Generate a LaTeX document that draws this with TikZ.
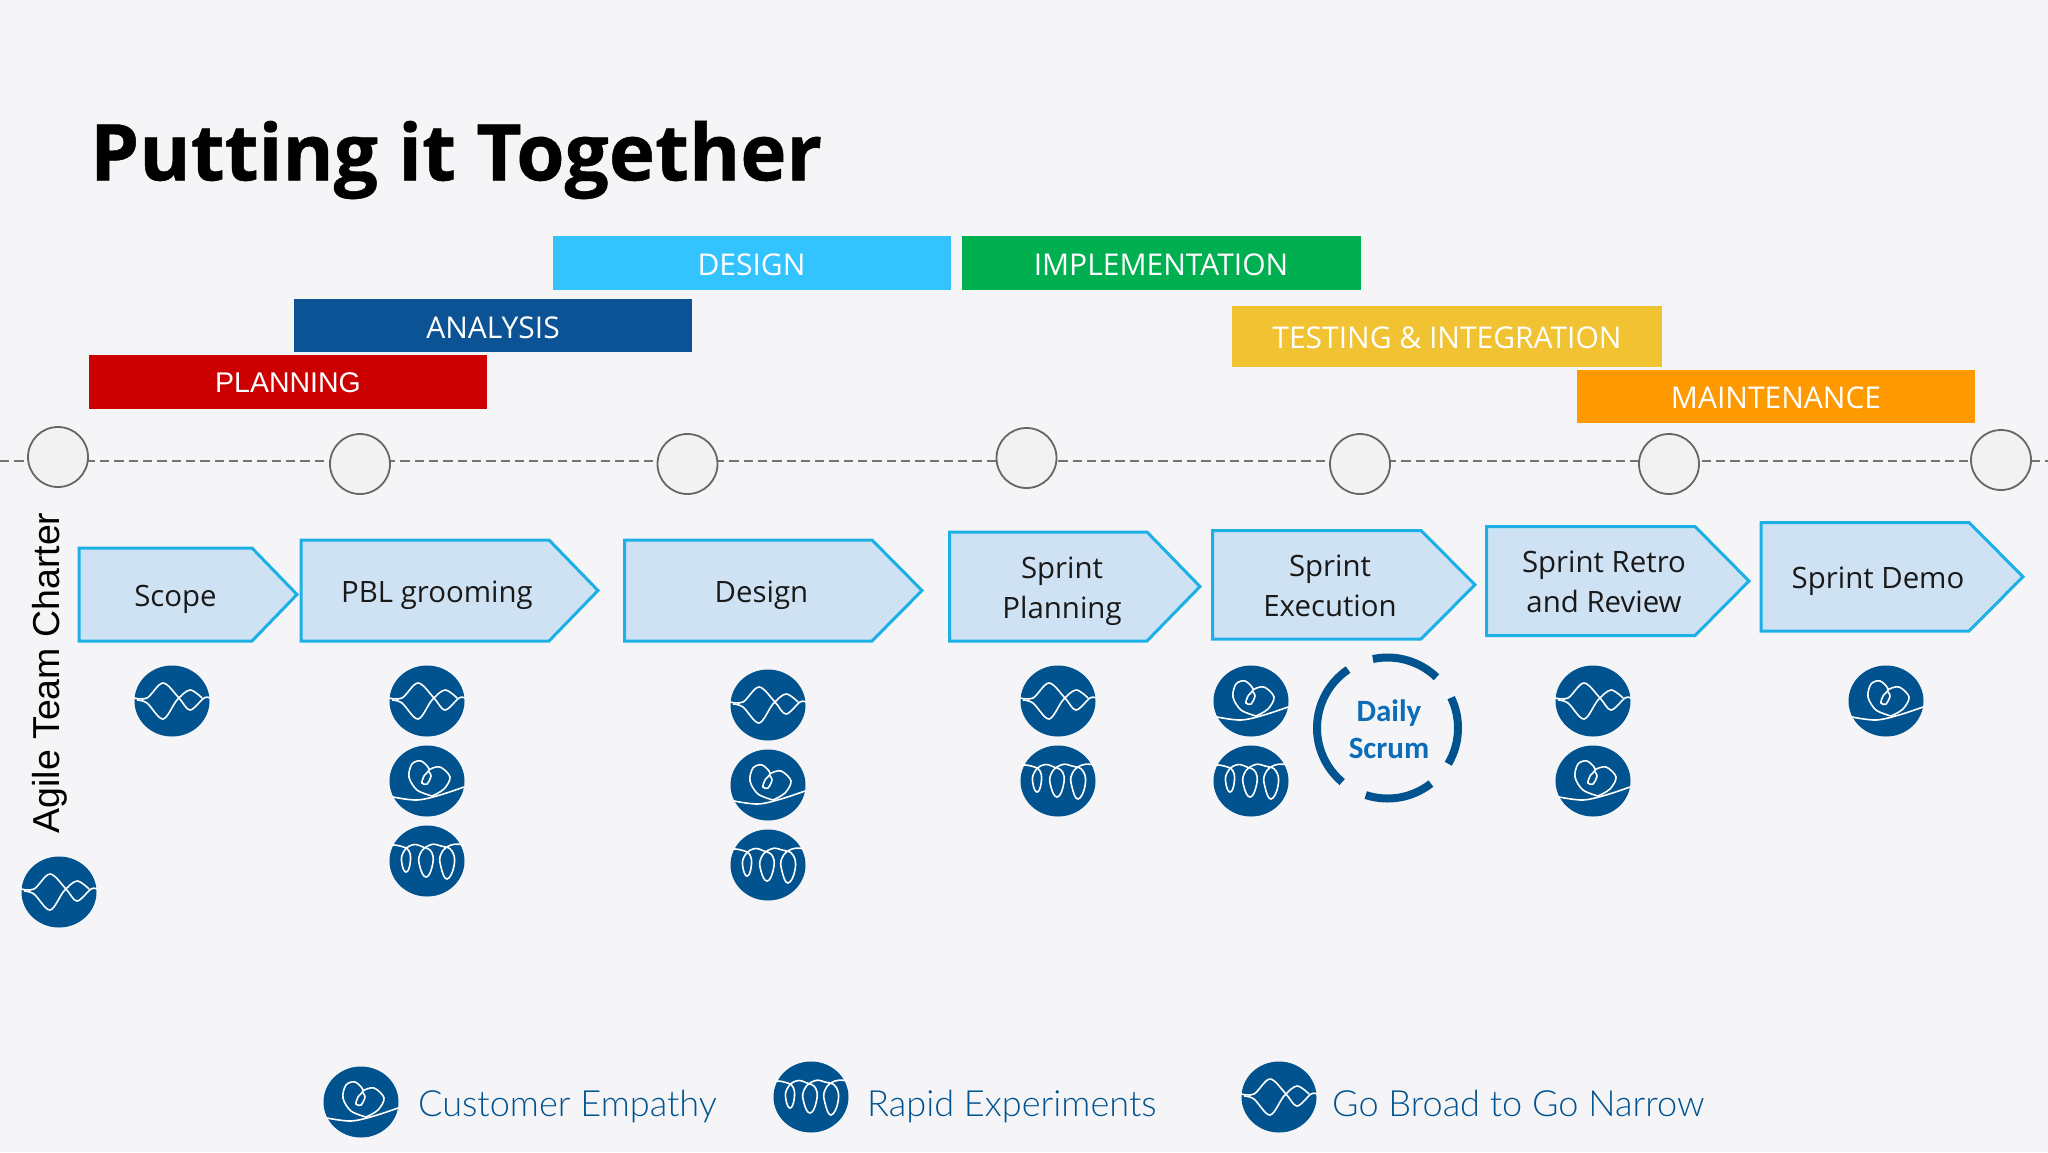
\documentclass[tikz,border=0pt]{standalone}
\usepackage{fontspec}
\usetikzlibrary{positioning}
\setmainfont{Open Sans}
\newfontfamily\titlesans[FakeBold=0.6]{Open Sans Bold}
\newfontfamily\armsans{Liberation Sans}
\newfontfamily\calsans{Carlito}
\newfontfamily\legsans{Lato Light}
\definecolor{pagebg}{HTML}{F5F5F7}
\definecolor{iconblue}{HTML}{01538F}
\definecolor{stagefill}{HTML}{CFE2F3}
\definecolor{stageline}{HTML}{1CB0E6}
\tikzset{phase/.style={anchor=center,inner sep=0pt,text=white,font=\fontsize{30}{36}\selectfont}}
\tikzset{mile/.style={circle,draw=black!60,line width=1.8pt,fill=black!5,minimum size=60pt,inner sep=0pt}}
\tikzset{stage/.style={draw=stageline,fill=stagefill,line width=3pt,line join=miter}}
\tikzset{stagetext/.style={align=center,inner sep=0pt,text=black!90,font=\fontsize{29.4}{40.5}\selectfont}}
\tikzset{legend/.style={anchor=west,inner sep=0pt,text=iconblue,font=\legsans\fontsize{36.1}{40}\selectfont}}
\tikzset{wiggle/.style={draw=white,line width=1.6pt,smooth,tension=0.55}}
\tikzset{ring/.style={draw=iconblue,line width=8pt}}
\tikzset{disc/.style={fill=iconblue,draw=none}}
\tikzset{broad/.pic={
        \path[disc] (0,0) ellipse[x radius=37.5pt,y radius=35.5pt];
        \draw[wiggle] plot coordinates {(-38,-3) (-25,-3) (-9,-18) (7,-3) (18,9) (32,-3) (38,-3)};
        \draw[wiggle] plot coordinates {(-35,-1) (-25,2) (-9,18) (5,-1) (18,-11) (30,-3)};
    }}
\tikzset{empathy/.pic={
        \path[disc] (0,0) ellipse[x radius=37.5pt,y radius=35.5pt];
        \draw[wiggle] plot coordinates {(-34,16) (-10,19) (13,14) (37,6)};
        \draw[wiggle] plot coordinates {(5,15) (-10,9) (-18,-4) (-15,-17) (-6,-20) (2,-12) (-3,-5) (-5,2) (0,3) (4,-5) (2,-11) (13,-14) (23,-4) (17,8) (5,15)};
    }}
\tikzset{rapid/.pic={
        \path[disc] (0,0) ellipse[x radius=37.5pt,y radius=35.5pt];
        \draw[wiggle,tension=0.8] plot coordinates {(-36,-16) (-27,-15) (-18,-10) (-17,3) (-21,11) (-25,3) (-24,-8) (-15,-16) (-4,-14) (5,-8) (5,6) (-1,16) (-7,6) (-7,-7) (3,-16) (14,-15) (25,-10) (27,5) (20,18) (14,6) (14,-7) (24,-16) (37,-16)};
    }}
\newcommand{\stagebox}[5]{\draw[stage] (#1,#2) -- (#4,#2) -- (#3,{(#2+#5)/2}) -- (#4,#5) -- (#1,#5) -- cycle;}
\begin{document}
\begin{tikzpicture}[x=1pt,y=-1pt]
    \path[use as bounding box,fill=pagebg] (0,0) rectangle (2048,1152);

    \node[anchor=west,inner sep=0pt,font=\titlesans\fontsize{78.2}{82}\selectfont] (title) at (90,160) {Putting it Together};

    % phase bars
    \path[fill={rgb,255:red,51;green,195;blue,255}] (552.5,236) rectangle (951,290);
    \node[phase] (design) at (751.5,265) {DESIGN};
    \path[fill={rgb,255:red,0;green,176;blue,80}] (961.5,236) rectangle (1361,290);
    \node[phase] (impl) at (1161,265) {IMPLEMENTATION};
    \path[fill={rgb,255:red,11;green,83;blue,148}] (294,299) rectangle (692,352);
    \node[phase] (analysis) at (493,327.5) {ANALYSIS};
    \path[fill={rgb,255:red,204;green,0;blue,0}] (89,355) rectangle (487,409);
    \node[phase,font=\armsans\fontsize{28.5}{36}\selectfont] (planning) at (288,383) {PLANNING};
    \path[fill={rgb,255:red,241;green,194;blue,50}] (1232,306) rectangle (1661.5,367);
    \node[phase] (testing) at (1447,338) {TESTING \& INTEGRATION};
    \path[fill={rgb,255:red,255;green,153;blue,0}] (1576.5,370) rectangle (1975,423);
    \node[phase] (maint) at (1776,398) {MAINTENANCE};

    % timeline
    \coordinate (tlstart) at (0,460.5);
    \coordinate (tlend) at (2048,460.5);
    \draw[black!55,line width=2pt,dash pattern=on 9.3pt off 5pt] (tlstart) -- (tlend);
    \node[mile] (m1) at (58,457) {};
    \node[mile] (m2) at (360,464) {};
    \node[mile] (m3) at (687.5,464) {};
    \node[mile] (m4) at (1026.5,458) {};
    \node[mile] (m5) at (1360,464) {};
    \node[mile] (m6) at (1669,464) {};
    \node[mile] (m7) at (2001,460) {};

    % stages
    \stagebox{79}{548}{297}{252}{641}
    \node[stagetext] (scope) at (175.5,599) {Scope};
    \stagebox{301}{540}{598}{549}{641}
    \node[stagetext] (pbl) at (437,595) {PBL grooming};
    \stagebox{624.5}{540}{922}{872}{641}
    \node[stagetext] (dsgn) at (761.5,595) {Design};
    \stagebox{949.5}{532}{1200}{1147}{641}
    \node[stagetext] (plan) at (1062,591) {Sprint\\Planning};
    \stagebox{1212.5}{530.5}{1475}{1421}{639}
    \node[stagetext] (exec) at (1330,586) {Sprint\\Execution};
    \stagebox{1486.5}{526.5}{1749}{1695}{635.5}
    \node[stagetext] (retro) at (1604,582) {Sprint Retro\\and Review};
    \stagebox{1761}{522.5}{2023}{1969}{631}
    \node[stagetext] (demo) at (1878,581) {Sprint Demo};

    \node[rotate=90,inner sep=0pt,font=\armsans\fontsize{37.5}{40}\selectfont] (charter) at (50,673) {Agile Team Charter};

    % icons under the stages
    \pic (i1) at (59,892) {broad};
    \pic (i2) at (172,701) {broad};
    \pic (i3) at (427,701) {broad};
    \pic (i4) at (427,781) {empathy};
    \pic (i5) at (427,861) {rapid};
    \pic (i6) at (768,705) {broad};
    \pic (i7) at (768,785) {empathy};
    \pic (i8) at (768,865) {rapid};
    \pic (i9) at (1058,701) {broad};
    \pic (i10) at (1058,781) {rapid};
    \pic (i11) at (1251,701) {empathy};
    \pic (i12) at (1251,781) {rapid};
    \pic (i13) at (1593,701) {broad};
    \pic (i14) at (1593,781) {empathy};
    \pic (i15) at (1886,701) {empathy};

    % daily scrum
    \coordinate (scrum) at (1387.5,728);
    \draw[ring,shift={(scrum)}] (46:70.5pt) arc[start angle=46,end angle=102,radius=70.5pt];
    \draw[ring,shift={(scrum)}] (-30.5:70.5pt) arc[start angle=-30.5,end angle=25.5,radius=70.5pt];
    \draw[ring,shift={(scrum)}] (-108:70.5pt) arc[start angle=-108,end angle=-52,radius=70.5pt];
    \draw[ring,shift={(scrum)}] (124:70.5pt) arc[start angle=124,end angle=230,radius=70.5pt];
    \node[align=center,inner sep=0pt,text={rgb,255:red,11;green,109;blue,183},font=\calsans\bfseries\fontsize{31}{37}\selectfont] (daily) at (1389,729.5) {Daily\\Scrum};

    % legend
    \pic (l1) at (361,1102) {empathy};
    \node[legend] (lcust) at (418,1107) {Customer Empathy};
    \pic (l2) at (811,1097) {rapid};
    \node[legend] (lrapid) at (867,1107) {Rapid Experiments};
    \pic (l3) at (1279,1097) {broad};
    \node[legend] (lbroad) at (1332,1103) {Go Broad to Go Narrow};
\end{tikzpicture}
\end{document}
